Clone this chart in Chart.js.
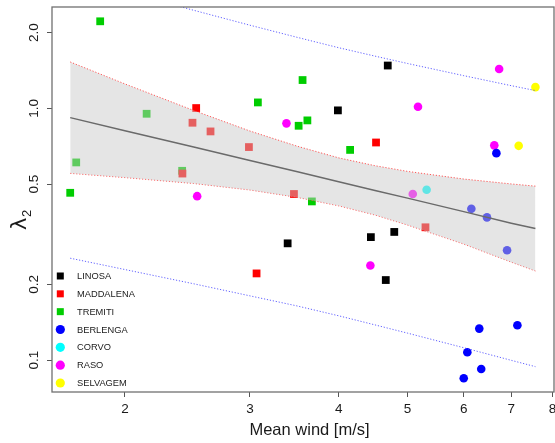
<!DOCTYPE html>
<html><head><meta charset="utf-8">
<script src="https://cdn.jsdelivr.net/npm/chart.js@4.4.1/dist/chart.umd.min.js"></script>
<style>html,body{margin:0;padding:0;background:#fff;overflow:hidden}#wrap{width:555px;height:443px;position:relative}canvas{display:block}</style>
</head><body><div id="wrap"><canvas id="c"></canvas></div>
<script>
// ---- categories ----
const islands = ['LINOSA','MADDALENA','TREMITI','BERLENGA','CORVO','RASO','SELVAGEM'];
const islandColors = ['#000000','#ff0000','#00cd00','#0000ff','#00ffff','#ff00ff','#ffff00'];
const islandShapes = ['rect','rect','rect','circle','circle','circle','circle'];

// ---- series values (mean wind [m/s], lambda2) ----
const linosaWind = [4.69, 3.99, 3.39, 4.44, 4.79, 4.66];
const linosaL2   = [1.48, 0.982, 0.291, 0.308, 0.323, 0.208];
const maddalenaWind = [2.52, 2.49, 2.64, 2.99, 2.41, 3.065, 4.515, 3.46, 5.30];
const maddalenaL2   = [1.003, 0.877, 0.810, 0.702, 0.551, 0.221, 0.732, 0.457, 0.337];
const tremitiWind = [1.846, 1.675, 1.708, 2.146, 2.408, 3.078, 3.558, 3.513, 3.614, 4.151, 3.667];
const tremitiL2   = [2.218, 0.462, 0.610, 0.952, 0.565, 1.056, 1.296, 0.853, 0.896, 0.684, 0.427];
const berlengaWind = [6.67, 6.15, 6.47, 6.905, 6.31, 7.14, 6.07, 6.35, 6.00];
const berlengaL2   = [0.664, 0.399, 0.369, 0.273, 0.1334, 0.1375, 0.1074, 0.0922, 0.0847];
const corvoWind = [5.32];
const corvoL2   = [0.475];
const rasoWind = [2.528, 6.73, 5.173, 3.377, 6.625, 5.086, 4.433];
const rasoL2   = [0.448, 1.433, 1.015, 0.872, 0.713, 0.457, 0.2375];
const selvagemWind = [7.57, 7.17];
const selvagemL2   = [1.215, 0.710];

// ---- fitted line, confidence band and prediction interval ----
const fitWind = [1.675, 2, 2.5, 3, 3.5, 4, 4.5, 5, 6, 7, 7.57];
const fitL2   = [0.919, 0.815, 0.702, 0.621, 0.560, 0.511, 0.472, 0.440, 0.389, 0.350, 0.333];
const ciUpper = [1.529, 1.251, 0.981, 0.813, 0.707, 0.636, 0.592, 0.562, 0.524, 0.501, 0.491];
const ciLower = [0.552, 0.531, 0.503, 0.474, 0.443, 0.410, 0.377, 0.344, 0.289, 0.245, 0.226];
const piUpper = [3.33, 2.905, 2.453, 2.140, 1.914, 1.742, 1.613, 1.508, 1.349, 1.231, 1.177];
const piLower = [0.254, 0.229, 0.201, 0.180, 0.164, 0.150, 0.138, 0.128, 0.112, 0.0998, 0.0942];

// ---- ticks ----
const xTickValues = [2, 3, 4, 5, 6, 7, 8];
const xTickLabels = ['2', '3', '4', '5', '6', '7', '8'];
const yTickValues = [0.1, 0.2, 0.5, 1.0, 2.0];
const yTickLabels = ['0.1', '0.2', '0.5', '1.0', '2.0'];
const xTitle = 'Mean wind [m/s]';
const yTitleMain = 'λ';
const yTitleSub = '2';

const winds = [linosaWind, maddalenaWind, tremitiWind, berlengaWind, corvoWind, rasoWind, selvagemWind];
const l2s = [linosaL2, maddalenaL2, tremitiL2, berlengaL2, corvoL2, rasoL2, selvagemL2];
const pairs = (xs, ys) => xs.map((x, i) => ({x: x, y: ys[i]}));

const FONT = '"Liberation Sans", Arial, Helvetica, sans-serif';
Chart.defaults.font.family = FONT;
Chart.defaults.color = '#1a1a1a';

const datasets = [];
islands.forEach((name, k) => {
  datasets.push({
    label: name, data: pairs(winds[k], l2s[k]),
    pointStyle: islandShapes[k],
    pointRadius: islandShapes[k] === 'rect' ? 5.5 : 4.3,
    backgroundColor: islandColors[k], borderColor: islandColors[k], borderWidth: 0,
    showLine: false, order: 5
  });
});
const lineDs = (label, ys, color, dash, width, extra) => Object.assign({
  label: label, data: pairs(fitWind, ys), showLine: true, pointRadius: 0,
  borderColor: color, borderWidth: width, borderDash: dash, tension: 0, fill: false
}, extra || {});
datasets.push(lineDs('ciUpper', ciUpper, 'rgba(255,60,60,0.85)', [1.2, 1.8], 1,
  {fill: '+1', backgroundColor: 'rgba(200,200,200,0.48)', order: 2}));
datasets.push(lineDs('ciLower', ciLower, 'rgba(255,60,60,0.85)', [1.2, 1.8], 1, {order: 2}));
datasets.push(lineDs('fit', fitL2, '#6a6a6a', [], 1.5, {order: 1}));
datasets.push(lineDs('piUpper', piUpper, 'rgba(70,70,255,0.85)', [1.2, 1.8], 1, {order: 1}));
datasets.push(lineDs('piLower', piLower, 'rgba(70,70,255,0.85)', [1.2, 1.8], 1, {order: 1}));

const decor = {
  id: 'decor',
  afterDraw(chart) {
    const ctx = chart.ctx, a = chart.chartArea;
    ctx.save();
    ctx.strokeStyle = '#707070'; ctx.lineWidth = 1.3;
    ctx.strokeRect(a.left, a.top, a.right - a.left, a.bottom - a.top);
    // legend
    ctx.font = '9.3px ' + FONT;
    ctx.textBaseline = 'middle'; ctx.textAlign = 'left';
    islands.forEach((name, k) => {
      const y = 276 + k * 17.83, cx = 60.3;
      ctx.fillStyle = islandColors[k];
      if (islandShapes[k] === 'rect') ctx.fillRect(cx - 3.5, y - 3.5, 7, 7);
      else { ctx.beginPath(); ctx.arc(cx, y, 4.6, 0, Math.PI * 2); ctx.fill(); }
      ctx.fillStyle = '#1a1a1a';
      ctx.fillText(name, 77, y + 0.5);
    });
    // x title
    ctx.font = '16.5px ' + FONT;
    ctx.textAlign = 'center'; ctx.textBaseline = 'middle';
    ctx.fillText(xTitle, 309.5, 430);
    // y title
    ctx.translate(21, 230);
    ctx.rotate(-Math.PI / 2);
    ctx.textAlign = 'left'; ctx.textBaseline = 'middle';
    ctx.font = '21px "DejaVu Sans", sans-serif';
    ctx.fillText(yTitleMain, 0, 0);
    const w = ctx.measureText(yTitleMain).width;
    ctx.font = '13px ' + FONT;
    ctx.fillText(yTitleSub, w + 0.5, 6);
    ctx.restore();
  }
};

const zeroPad = s => { s.paddingLeft = 0; s.paddingRight = 0; s.paddingTop = 0; s.paddingBottom = 0; };

new Chart(document.getElementById('c'), {
  type: 'scatter',
  data: {datasets: datasets},
  plugins: [decor],
  options: {
    responsive: true, maintainAspectRatio: false, animation: false,
    layout: {autoPadding: false, padding: {top: 7, right: 1, left: 0, bottom: 0}},
    plugins: {legend: {display: false}, tooltip: {enabled: false}},
    scales: {
      x: {
        type: 'logarithmic', min: 1.579, max: 8.04,
        afterBuildTicks: s => { s.ticks = xTickValues.map(v => ({value: v})); },
        afterFit: s => { s.height = 51; zeroPad(s); },
        ticks: {autoSkip: false, maxRotation: 0, padding: 4, font: {size: 13.5},
                callback: (v, i) => xTickLabels[i]},
        grid: {display: true, drawOnChartArea: false, drawTicks: true, tickLength: 5, color: '#555'},
        border: {display: false}
      },
      y: {
        type: 'logarithmic', min: 0.0747, max: 2.528,
        afterBuildTicks: s => { s.ticks = yTickValues.map(v => ({value: v})); },
        afterFit: s => { s.width = 52; zeroPad(s); },
        ticks: {autoSkip: false, minRotation: 90, maxRotation: 90, crossAlign: 'center', padding: 3,
                font: {size: 13.5}, callback: (v, i) => yTickLabels[i]},
        grid: {display: true, drawOnChartArea: false, drawTicks: true, tickLength: 5, color: '#555'},
        border: {display: false}
      }
    }
  }
});
</script></body></html>
